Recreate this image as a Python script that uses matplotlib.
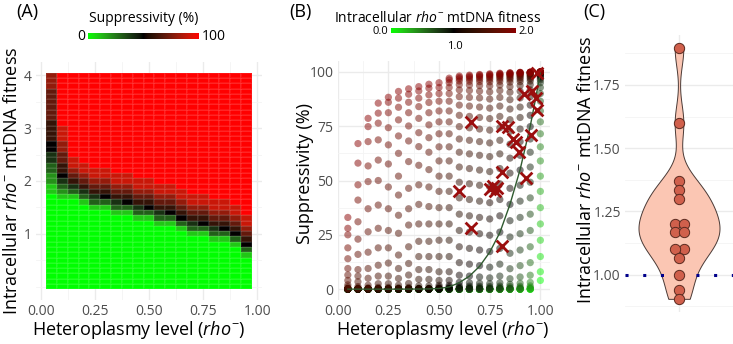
import numpy as np
import matplotlib
matplotlib.use("Agg")
import matplotlib.pyplot as plt
from matplotlib.colors import ListedColormap
from matplotlib.ticker import AutoMinorLocator

# ---------------- data ----------------
# (A) suppressivity heatmap, one string per heteroplasmy column,
# read bottom (fitness 0.0) to top (fitness 4.0); a=0%, b=10% ... k=100%
heteroplasmy_a = [0.05, 0.10, 0.15, 0.20, 0.25, 0.30, 0.35, 0.40, 0.45, 0.50,
                  0.55, 0.60, 0.65, 0.70, 0.75, 0.80, 0.85, 0.90, 0.95]
fitness_a = [i / 10 for i in range(41)]
heat_columns = [
    "a" * 18 + "bbccddeeff" + "gggg" + "hhhhhh" + "iii",
    "a" * 17 + "bcde" + "f" + "gghhiijjj" + "k" * 10,
    "a" * 17 + "bdeghijj" + "k" * 16,
    "a" * 16 + "bdeghijj" + "k" * 17,
    "a" * 15 + "bdeghijj" + "k" * 18,
    "a" * 15 + "bdfghijj" + "k" * 18,
    "a" * 14 + "bdeghijj" + "k" * 19,
    "a" * 14 + "bdfghijj" + "k" * 19,
    "a" * 13 + "bdeghijj" + "k" * 20,
    "a" * 13 + "bdfghijj" + "k" * 20,
    "a" * 12 + "bdeghijj" + "k" * 21,
    "a" * 12 + "bdfghijj" + "k" * 21,
    "a" * 11 + "bdfghijj" + "k" * 22,
    "a" * 10 + "bdeghijj" + "k" * 23,
    "a" * 10 + "bdfghijj" + "k" * 23,
    "a" * 9 + "bdeghijj" + "k" * 24,
    "a" * 9 + "bdfghijj" + "k" * 24,
    "a" * 8 + "bdfghijj" + "k" * 25,
    "a" * 6 + "bdfghijj" + "k" * 27,
]
level = {c: 10 * i for i, c in enumerate("abcdefghijk")}

# (B) simulated suppressivity (%) per heteroplasmy column
heteroplasmy_b = [0.05, 0.10, 0.15, 0.20, 0.25, 0.30, 0.35, 0.40, 0.45, 0.50,
                  0.55, 0.60, 0.65, 0.70, 0.75, 0.80, 0.85, 0.90, 0.95, 1.00]
fitness_b = [round(2.0 - 0.05 * i, 2) for i in range(41)]   # 2.00, 1.95 ... 0.00
# fitness 2.00 ... 1.00
suppress_above = [
    [33, 28, 25, 19, 14, 9.5, 6.5, 4, 2, 1, 0.4, 0.2, 0.1, 0, 0, 0, 0, 0, 0, 0, 0],
    [67, 58, 48, 41, 31, 23, 16, 9, 6, 3.4, 1.2, 0.5, 0.2, 0.1, 0, 0, 0, 0, 0, 0, 0],
    [78.6, 74.8, 67.9, 56.7, 49.5, 37, 26.4, 17, 9.5, 5, 1.8, 0.6, 0.2, 0.1, 0, 0, 0, 0, 0, 0, 0],
    [85.6, 81, 76.4, 68.7, 59.4, 50, 38.7, 28, 19, 11, 6, 2.5, 0.8, 0.3, 0.1, 0, 0, 0, 0, 0, 0],
    [88.3, 86, 81.2, 74.3, 66.4, 57.6, 47, 37, 27, 19, 12, 6, 2.5, 0.8, 0.3, 0.1, 0, 0, 0, 0, 0],
    [91, 87.9, 83.7, 77.9, 70.5, 62.5, 52, 43.3, 34, 25.7, 15.7, 9.5, 4.9, 1.8, 0.6, 0.2, 0.1, 0, 0, 0, 0],
    [92.2, 89.7, 86, 81.2, 75.1, 68.2, 58.7, 46.4, 37, 29.5, 19.5, 11.8, 6.5, 2.6, 0.8, 0.3, 0.1, 0, 0, 0, 0],
    [93.2, 91.2, 87.9, 84, 78.6, 72, 65.6, 57, 48, 39, 30, 22, 15, 9, 4.5, 1.5, 0.4, 0.1, 0, 0, 0],
    [94.3, 92.5, 89.4, 85.9, 81.2, 75.6, 69.7, 63, 55, 47, 38, 30, 22, 15, 9, 4.5, 1.5, 0.4, 0.1, 0, 0],
    [95, 92.8, 90, 86.5, 82, 77, 71.5, 65.5, 59, 52, 45, 37.5, 30, 22.5, 15, 8, 4, 1.8, 1.0, 0.5, 0.2],
    [97.1, 96.3, 95, 92.8, 90, 86.5, 82, 77, 71.5, 65.5, 59, 52, 45, 37.5, 30, 22.5, 15, 8, 4, 1.8, 1.0],
    [98.1, 97.5, 96.8, 95.8, 94.1, 91.7, 88.6, 84.7, 80, 74.8, 69.1, 63, 56.2, 49.2, 42, 34.5, 27, 19.5, 12.2, 6.4, 3.1],
    [98.5, 98.05, 97.45, 96.7, 95.65, 93.9, 91.4, 88.25, 84.25, 79.5, 74.25, 68.5, 62.25, 55.5, 48.5, 41.25, 33.75, 26.25, 18.75, 11.5, 6],
    [98.8, 98.5, 98, 97.4, 96.6, 95.5, 93.7, 91.1, 88, 83.8, 79, 73.7, 67.9, 61.6, 54.8, 47.8, 40.5, 33, 25.5, 18, 10.8],
    [99.1, 98.8, 98.4, 97.9, 97.3, 96.5, 95.4, 93.5, 90.8, 87.5, 83.3, 78.5, 73.2, 67.3, 61, 54.1, 47.1, 39.8, 32.3, 24.8, 17.3],
    [99.4, 99.15, 98.85, 98.5, 98.05, 97.45, 96.7, 95.65, 93.9, 91.4, 88.25, 84.25, 79.5, 74.25, 68.5, 62.25, 55.5, 48.5, 41.25, 33.75, 26.25],
    [99.6, 99.5, 99.3, 99.05, 98.8, 98.4, 97.9, 97.2, 96.5, 95.3, 93.2, 90.6, 87.2, 82.9, 78, 72.6, 66.7, 60.3, 53.4, 46.4, 39],
    [99.8, 99.7, 99.65, 99.55, 99.4, 99.1, 98.85, 98.5, 98, 97.4, 96.6, 95.5, 93.7, 91.1, 88, 83.8, 79, 73.7, 67.9, 61.6, 54.8],
    [99.9, 99.85, 99.8, 99.8, 99.7, 99.65, 99.6, 99.4, 99.2, 98.9, 98.5, 98.1, 97.5, 96.8, 95.8, 94.1, 91.7, 88.6, 84.7, 80, 74.8],
    [100, 100, 100, 100, 100, 99.95, 99.95, 99.9, 99.9, 99.85, 99.85, 99.8, 99.8, 99.75, 99.7, 99.65, 99.5, 99.3, 99, 98.7, 98.3],
]
# fitness 0.95 ... 0.00
suppress_below = [[0] * 20] * 10 + [
    [0.5, 0.2] + [0] * 18,
    [1.5, 0.8, 0.4, 0.1] + [0] * 16,
    [2.9, 1.4, 0.75, 0.35, 0.1] + [0] * 15,
    [5.6, 2.7, 1.3, 0.7, 0.3, 0.1] + [0] * 14,
    [10.1, 5.2, 2.5, 1.2, 0.6, 0.3, 0.05] + [0] * 13,
    [18.75, 11.5, 6, 2.9, 1.4, 0.75, 0.35, 0.1] + [0] * 12,
    [31.5, 24, 16.5, 9.4, 4.8, 2.2, 1.2, 0.55, 0.25, 0.05] + [0] * 10,
    [47.8, 40.5, 33, 25.5, 18, 10.8, 5.6, 2.7, 1.3, 0.7, 0.3, 0.1] + [0] * 8,
    [69.1, 63, 56.2, 49.2, 42, 34.5, 27, 19.5, 12.2, 6.4, 3.1, 1.5, 0.8, 0.4, 0.1] + [0] * 5,
    [97.8, 97.1, 96.3, 95, 92.8, 90, 86.5, 82, 77, 71.5, 65.5, 59, 52, 45, 37.5, 30, 22.5, 15, 8, 4],
]
# neutral (fitness 1) curve drawn as a line
curve_h = [0.05, 0.30, 0.40, 0.45, 0.50, 0.55, 0.60, 0.65, 0.70,
           0.75, 0.80, 0.85, 0.90, 0.95, 0.975, 1.00]
curve_s = [0, 0, 0.05, 0.1, 0.3, 1.0, 3, 6, 10.5,
           17, 26, 39, 55, 75, 87, 99.5]
# measured strains
strain_h = [0.60, 0.66, 0.66, 0.75, 0.765, 0.775, 0.785, 0.81, 0.81, 0.81, 0.84,
            0.865, 0.88, 0.895, 0.93, 0.955, 0.92, 0.96, 0.98, 0.985, 0.985]
strain_s = [45, 77, 28, 46, 47.5, 45, 46.5, 54, 20, 75, 74.5,
            69, 67.5, 63, 51, 71, 90, 91, 88, 99.5, 82.5]

# (C) estimated fitness: dots that can be seen, plus the strains hidden under them
fitness_shown = [1.895, 1.60, 1.37, 1.335, 1.30, 1.20, 1.20, 1.17, 1.17,
                 1.10, 1.10, 1.065, 1.00, 0.94, 0.905]
fitness_hidden = [1.12, 1.15, 1.22, 1.25, 1.28, 1.32]

# ---------------- helpers ----------------
W, H = 733, 344
M = np.array([[0.4124564, 0.3575761, 0.1804375],
              [0.2126729, 0.7151522, 0.0721750],
              [0.0193339, 0.1191920, 0.9503041]])
WHITE = np.array([0.95047, 1.0, 1.08883])


def to_lab(hexcol):
    rgb = np.array([int(hexcol[i:i + 2], 16) for i in (1, 3, 5)]) / 255
    c = np.where(rgb <= 0.04045, rgb / 12.92, ((rgb + 0.055) / 1.055) ** 2.4)
    xyz = M @ c / WHITE
    f = np.where(xyz > 216 / 24389, np.cbrt(xyz), (24389 / 27 * xyz + 16) / 116)
    return np.array([116 * f[1] - 16, 500 * (f[0] - f[1]), 200 * (f[1] - f[2])])


def from_lab(lab):
    fy_ = (lab[0] + 16) / 116
    f = np.array([fy_ + lab[1] / 500, fy_, fy_ - lab[2] / 200])
    xyz = np.where(f ** 3 > 216 / 24389, f ** 3, (116 * f - 16) / (24389 / 27)) * WHITE
    rgb = np.clip(np.linalg.solve(M, xyz), 0, 1)
    return np.clip(np.where(rgb <= 0.0031308, 12.92 * rgb, 1.055 * rgb ** (1 / 2.4) - 0.055), 0, 1)


def lab_cmap(low, mid, high, n=256):
    # same Lab interpolation as ggplot's gradient2 scales
    labs = [to_lab(c) for c in (low, mid, high)]
    cols = []
    for t in np.linspace(0, 1, n):
        if t < 0.5:
            lab = labs[0] + (labs[1] - labs[0]) * t / 0.5
        else:
            lab = labs[1] + (labs[2] - labs[1]) * (t - 0.5) / 0.5
        cols.append(from_lab(lab))
    return ListedColormap(cols)


def box(l, t, r, b):
    return [l / W, 1 - b / H, (r - l) / W, (b - t) / H]


def fx(x):
    return x / W


def fy(y):
    return 1 - y / H


def style(ax):
    for s in ax.spines.values():
        s.set_visible(False)
    ax.tick_params(which="both", length=0, labelsize=10, labelcolor="#4D4D4D", pad=3)
    ax.xaxis.set_minor_locator(AutoMinorLocator(2))
    ax.yaxis.set_minor_locator(AutoMinorLocator(2))
    ax.grid(which="major", color="#EBEBEB", lw=1.0)
    ax.grid(which="minor", color="#F4F4F4", lw=0.6)
    ax.set_axisbelow(True)


plt.rcParams.update({
    "font.family": ["Open Sans", "DejaVu Sans"],
    "mathtext.fontset": "custom",
    "mathtext.rm": "Open Sans",
    "mathtext.it": "Open Sans:italic",
})
RHO = r"$\mathit{rho}^{-}$"
fit_label = "Intracellular " + RHO + " mtDNA fitness"
het_label = "Heteroplasmy level (" + RHO + ")"

cmap_a = lab_cmap("#00FF00", "#000000", "#FF0000")
cmap_b = lab_cmap("#00FF00", "#000000", "#8B0000")

fig = plt.figure(figsize=(W / 100, H / 100), dpi=100)

# ---------------- (A) ----------------
axA = fig.add_axes(box(35.7, 62, 262.3, 300))
style(axA)
z = np.array([[level[c] for c in col] for col in heat_columns]).T
ha = np.array(heteroplasmy_a)
fa = np.array(fitness_a)
xe = np.append(ha - 0.025, ha[-1] + 0.025)
ye = np.append(fa - 0.05, fa[-1] + 0.05)
axA.pcolormesh(xe, ye, z, cmap=cmap_a, vmin=0, vmax=100,
               edgecolors=(1, 1, 1, 0.08), linewidth=0.3)
axA.set_xlim(-0.0225, 1.0225)
axA.set_ylim(-0.255, 4.255)
axA.set_xticks([0, 0.25, 0.5, 0.75, 1.0], ["0.00", "0.25", "0.50", "0.75", "1.00"])
axA.set_yticks([1, 2, 3, 4], ["1", "2", "3", "4"])

cbA = fig.add_axes(box(88.3, 32.7, 199, 39.3))
cbA.imshow(np.linspace(0, 1, 256)[None, :], cmap=cmap_a, aspect="auto")
cbA.axis("off")
fig.text(fx(144), fy(18), "Suppressivity (%)", ha="center", va="center", fontsize=10)
fig.text(fx(85), fy(36), "0", ha="right", va="center", fontsize=10)
fig.text(fx(202), fy(36), "100", ha="left", va="center", fontsize=10)

# ---------------- (B) ----------------
axB = fig.add_axes(box(337.7, 61, 550, 300))
style(axB)
xs, ys, cs = [], [], []
for r in range(len(fitness_b) - 1, -1, -1):
    for h, above, below in zip(heteroplasmy_b, suppress_above, suppress_below):
        col = above + below
        xs.append(h)
        ys.append(col[r])
        cs.append(fitness_b[r])
axB.scatter(xs, ys, c=cs, cmap=cmap_b, vmin=0, vmax=2, s=27, alpha=0.5, linewidths=0)
axB.plot(curve_h, curve_s, color="#2F5A2F", lw=1.0)
axB.scatter(strain_h, strain_s, marker="x", s=72, color="#9B0E0E", linewidths=2.0, zorder=4)
axB.set_xlim(0.0025, 1.0475)
axB.set_ylim(-5, 105)
axB.set_xticks([0, 0.25, 0.5, 0.75, 1.0], ["0.00", "0.25", "0.50", "0.75", "1.00"])
axB.set_yticks([0, 25, 50, 75, 100], ["0", "25", "50", "75", "100"])

cbB = fig.add_axes(box(390.7, 28.3, 515, 33.5))
cbB.imshow(np.linspace(0, 1, 256)[None, :], cmap=cmap_b, aspect="auto")
cbB.axis("off")
fig.text(fx(334), fy(19), fit_label, ha="left", va="center", fontsize=10)
fig.text(fx(388), fy(32), "0.0", ha="right", va="center", fontsize=8)
fig.text(fx(518), fy(32), "2.0", ha="left", va="center", fontsize=8)
fig.text(fx(455), fy(46.5), "1.0", ha="center", va="center", fontsize=8)

# ---------------- (C) ----------------
axC = fig.add_axes(box(625, 35, 733, 312))
style(axC)
vals = np.array(fitness_shown + fitness_hidden)
n = len(vals)
q75, q25 = np.percentile(vals, [75, 25])
bw = 0.9 * min(vals.std(ddof=1), (q75 - q25) / 1.34) * n ** -0.2
yy = np.linspace(vals.min(), vals.max(), 512)
dens = np.exp(-0.5 * ((yy[:, None] - vals[None, :]) / bw) ** 2).sum(axis=1)
half = dens / dens.max() * 0.45
axC.fill_betweenx(yy, 1 - half, 1 + half, facecolor="#FBC6B3",
                  edgecolor="#4A3A36", lw=0.7, zorder=2)
axC.axhline(1.0, color="#00008B", lw=2.2, dashes=(1, 4.8), zorder=3)

# centred stacking of equal values
shown = np.array(fitness_shown)
order = np.argsort(shown)
offsets = np.zeros(len(shown))
groups = [[order[0]]]
for i in order[1:]:
    if shown[i] - shown[groups[-1][-1]] < 0.02:
        groups[-1].append(i)
    else:
        groups.append([i])
step = 0.1
for g in groups:
    for j, i in enumerate(g):
        offsets[i] = (j - (len(g) - 1) / 2) * step
axC.scatter(1 + offsets, shown, s=55, facecolor="#D0604C", edgecolor="#5A2A20",
            linewidths=0.7, zorder=4)
axC.set_xlim(0.4, 1.6)
axC.set_ylim(0.853, 1.947)
axC.set_xticks([1], [""])
axC.xaxis.set_minor_locator(plt.NullLocator())
axC.set_yticks([1.0, 1.25, 1.5, 1.75], ["1.00", "1.25", "1.50", "1.75"])

# ---------------- titles and tags ----------------
fig.text(fx(12), fy(181), fit_label, rotation=90, ha="center", va="center", fontsize=13)
fig.text(fx(139), fy(330), het_label, ha="center", va="center", fontsize=13)
fig.text(fx(305), fy(173), "Suppressivity (%)", rotation=90, ha="center", va="center", fontsize=13)
fig.text(fx(443), fy(330), het_label, ha="center", va="center", fontsize=13)
fig.text(fx(586), fy(170), fit_label, rotation=90, ha="center", va="center", fontsize=13)
fig.text(fx(27), fy(12), "(A)", ha="center", va="center", fontsize=13)
fig.text(fx(300), fy(12), "(B)", ha="center", va="center", fontsize=13)
fig.text(fx(594), fy(12), "(C)", ha="center", va="center", fontsize=13)

fig.savefig("out.png", dpi=100)
